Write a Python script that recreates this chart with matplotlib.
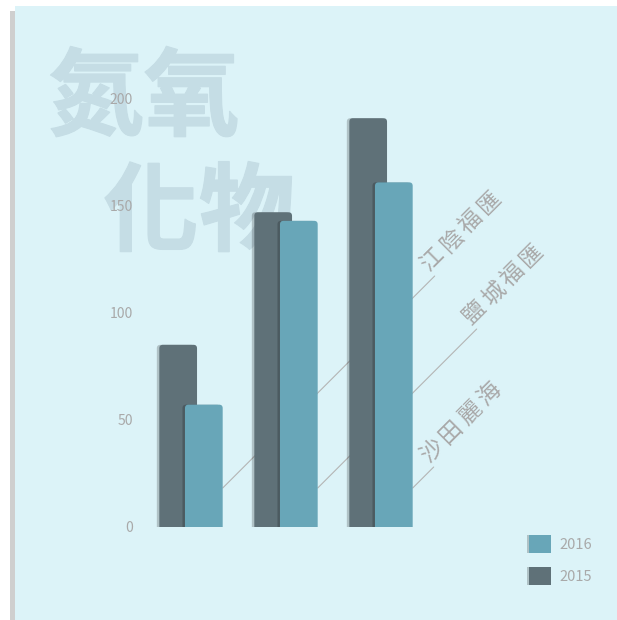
import matplotlib
matplotlib.use("Agg")
import matplotlib.pyplot as plt
import matplotlib.patheffects as pe
from matplotlib.patches import FancyBboxPatch, Rectangle, Patch, BoxStyle
import numpy as np

# ---------------- data ----------------
categories = ['江陰福匯', '鹽城福匯', '沙田麗海']
series_names = ['2015', '2016']
values_2015 = [85, 147, 191]
values_2016 = [57, 143, 161]
y_ticks = [0, 50, 100, 150, 200]
title_lines = ['氮氧', '化物']

# ---------------- style ----------------
W, H, DPI = 617, 620, 100
BG = '#dcf3f8'
DARK = '#5f7178'
LIGHT = '#68a6b8'
TITLE_C = '#c5dde5'
GRAY_TXT = '#a9a9a9'
LINE_C = '#b4b4b4'

plt.rcParams['font.family'] = ['Noto Sans CJK TC', 'DejaVu Sans']

fig = plt.figure(figsize=(W / DPI, H / DPI), dpi=DPI, facecolor='white')

# panel with left shadow strip
fig.patches.append(Rectangle((10 / W, 0), 1, 1 - 11 / H, transform=fig.transFigure,
                             facecolor='#cfcfcf', edgecolor='none', zorder=-3))
fig.patches.append(Rectangle((15 / W, 0), 1, 1 - 6 / H, transform=fig.transFigure,
                             facecolor=BG, edgecolor='none', zorder=-3))

# big background title
thick = [pe.withStroke(linewidth=1.0, foreground=TITLE_C)]
fig.text(48 / W, 1 - 128 / H, title_lines[0], fontsize=69, fontweight='black',
         color=TITLE_C, ha='left', va='baseline', zorder=-2, path_effects=thick)
fig.text(103 / W, 1 - 243 / H, title_lines[1], fontsize=69, fontweight='black',
         color=TITLE_C, ha='left', va='baseline', zorder=-2, path_effects=thick)

# axes
ax_left, ax_right = 140, 520
ax_bottom, ax_top = 526.5, 99
ax = fig.add_axes([ax_left / W, 1 - ax_bottom / H, (ax_right - ax_left) / W, (ax_bottom - ax_top) / H])
ax.set_facecolor('none')
ax.patch.set_alpha(0)
for s in ax.spines.values():
    s.set_visible(False)

px_per_x = 95.0
x0_px = 191.0
xlim = (-(x0_px - ax_left) / px_per_x, -(x0_px - ax_left) / px_per_x + (ax_right - ax_left) / px_per_x)
ax.set_xlim(*xlim)
ax.set_ylim(0, 200)
px_per_y = (ax_bottom - ax_top) / 200.0

ax.set_yticks(y_ticks)
ax.set_yticklabels([str(t) for t in y_ticks])
ax.tick_params(axis='y', length=0, pad=5, labelsize=10, labelcolor=GRAY_TXT)
ax.set_xticks([])

x = np.arange(len(categories))
bw = 0.397
off = 0.135

shadow = [pe.SimplePatchShadow(offset=(-1.8, 0), shadow_rgbFace='black', alpha=0.2), pe.Normal()]
r = 3.5 / px_per_x
aspect = px_per_x / px_per_y


def round_bars(container, color, z):
    for rect in container:
        bx, w, h = rect.get_x(), rect.get_width(), rect.get_height()
        p = FancyBboxPatch((bx, -10), w, h + 10,
                           boxstyle=BoxStyle.Round(pad=0, rounding_size=r),
                           mutation_aspect=aspect, facecolor=color, edgecolor='none',
                           zorder=z, path_effects=shadow)
        ax.add_patch(p)
        rect.set_visible(False)


b15 = ax.bar(x - off, values_2015, width=bw, color=DARK, zorder=2)
b16 = ax.bar(x + off, values_2016, width=bw, color=LIGHT, zorder=3)
round_bars(b15, DARK, 2)
round_bars(b16, LIGHT, 3)

# leader lines + diagonal labels
line_len = [212, 159, 21]
start_val = 18
adv = 27.0
along0, perp0 = 10.0, 12.5
u = np.array([1, 1]) / np.sqrt(2)      # along (display, y up)
n = np.array([-1, 1]) / np.sqrt(2)     # perpendicular "up" of rotated text
for i, cat in enumerate(categories):
    edge = x[i] + off + bw / 2
    L = line_len[i]
    ax.annotate('', xy=(edge, start_val), xytext=(L, L), textcoords='offset pixels',
                arrowprops=dict(arrowstyle='-', color=LINE_C, lw=0.8, shrinkA=0, shrinkB=0),
                annotation_clip=False, zorder=1)
    end = np.array([L, L], dtype=float)
    for k, ch in enumerate(cat):
        pos = end + (along0 + k * adv) * u + perp0 * n
        ax.annotate(ch, xy=(edge, start_val), xytext=(pos[0], pos[1]), textcoords='offset pixels',
                    rotation=45, rotation_mode='anchor', ha='center', va='center',
                    fontsize=16.5, color=GRAY_TXT, annotation_clip=False, zorder=1)

# legend
handles = [Patch(facecolor=LIGHT, edgecolor='none', path_effects=shadow),
           Patch(facecolor=DARK, edgecolor='none', path_effects=shadow)]
leg = fig.legend(handles, ['2016', '2015'], loc='upper left',
                 bbox_to_anchor=(529 / W, 1 - 535 / H), bbox_transform=fig.transFigure,
                 frameon=False, fontsize=10.5, handlelength=1.5, handleheight=1.5,
                 labelspacing=0.98, handletextpad=0.6, borderpad=0, borderaxespad=0)
for t in leg.get_texts():
    t.set_color(GRAY_TXT)

fig.savefig('out.png', dpi=DPI, facecolor='white')
